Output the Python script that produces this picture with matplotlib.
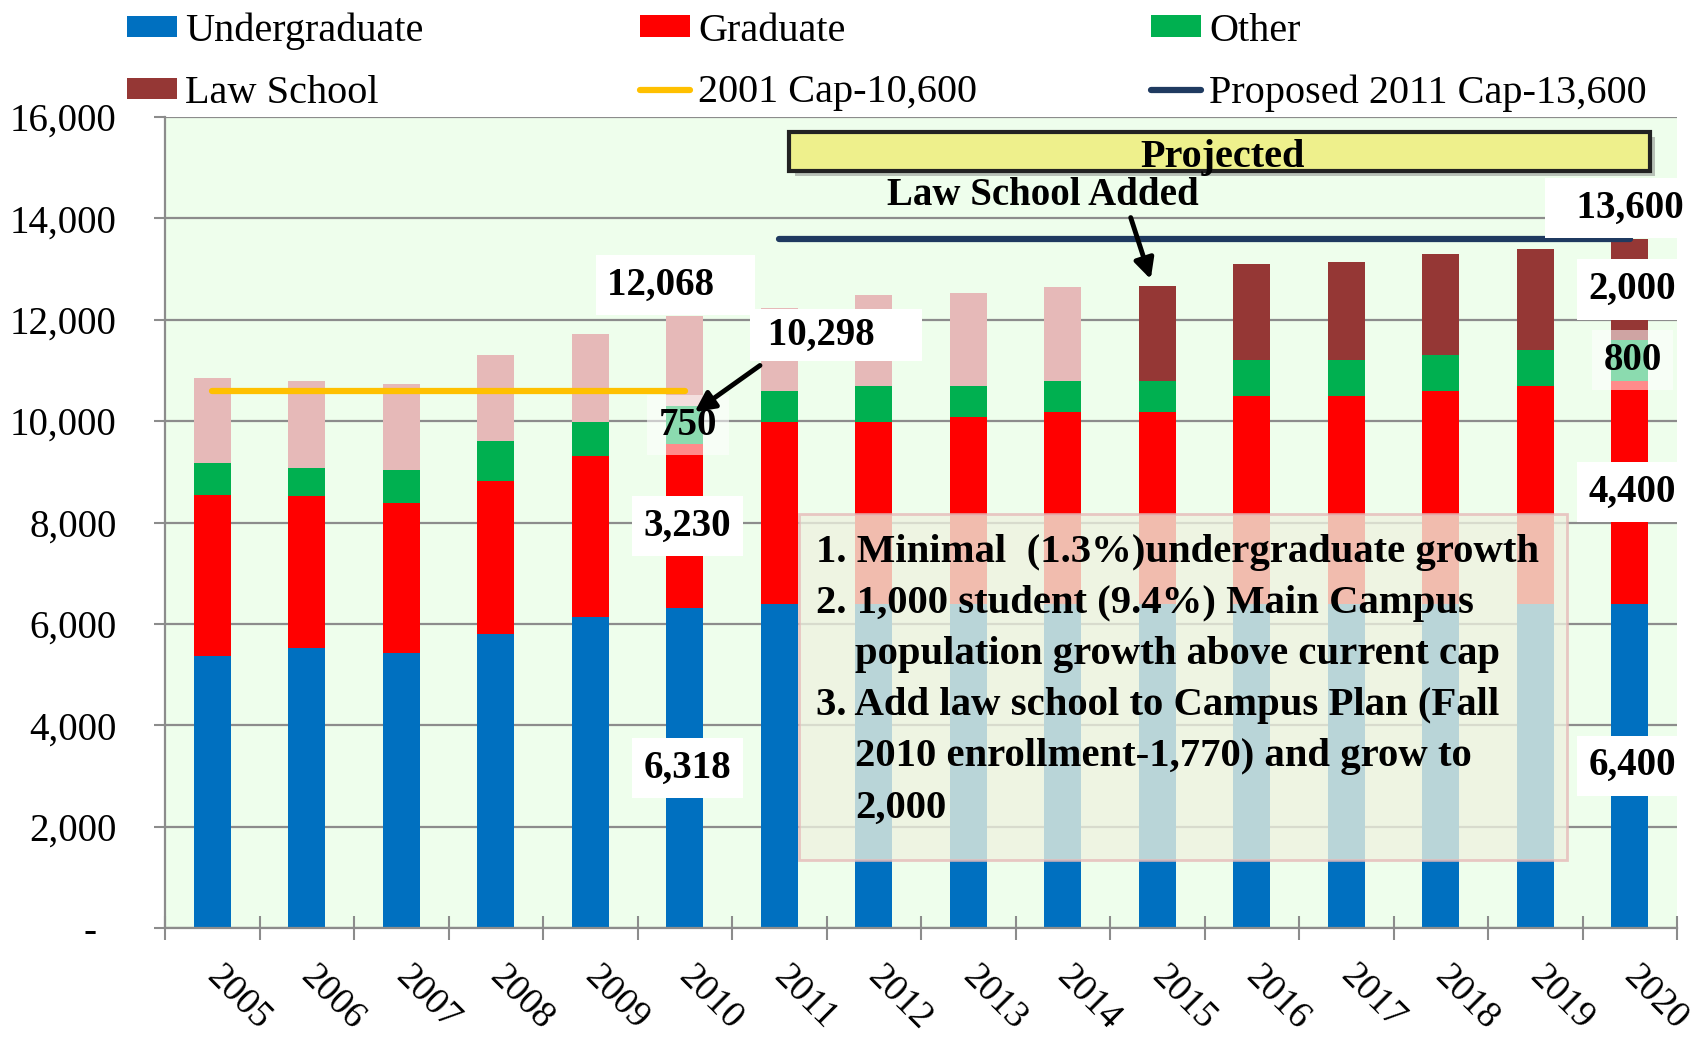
import numpy as np
import matplotlib
matplotlib.use("Agg")
import matplotlib.pyplot as plt
import matplotlib.transforms as mtransforms
from matplotlib.patches import Patch, Rectangle
from matplotlib.lines import Line2D

plt.rcParams['font.family'] = ['Liberation Serif', 'DejaVu Serif']

# ---------------- data ----------------
years = [str(y) for y in range(2005, 2021)]
undergraduate = [5370, 5520, 5430, 5800, 6140, 6318, 6390, 6400, 6400, 6400,
                 6400, 6400, 6400, 6400, 6400, 6400]
graduate = [3175, 3005, 2960, 3020, 3175, 3230, 3600, 3590, 3685, 3785,
            3785, 4100, 4100, 4200, 4300, 4400]
other = [630, 550, 645, 790, 670, 750, 610, 705, 610, 610,
         610, 707, 707, 705, 704, 800]
law_school = [1675, 1720, 1700, 1697, 1735, 1770, 1640, 1795, 1835, 1852,
              1872, 1894, 1933, 1993, 1993, 2000]
law_in_campus_plan = [False] * 10 + [True] * 6
cap_2001_years = years[:6]
cap_2001_value = 10600
cap_2011_years = years[6:]
cap_2011_value = 13600
yticks = list(range(0, 16001, 2000))
notes = [
    (0, "1. Minimal  (1.3%)undergraduate growth"),
    (0, "2. 1,000 student (9.4%) Main Campus"),
    (1, "population growth above current cap"),
    (0, "3. Add law school to Campus Plan (Fall"),
    (1, "2010 enrollment-1,770) and grow to"),
    (1, "2,000"),
]

# ---------------- colours ----------------
C_UG = '#0070C0'
C_GR = '#FF0000'
C_OT = '#00B050'
C_LAW = '#953735'
C_LAW_OFF = '#E6B9B8'
C_CAP01 = '#FFC000'
C_CAP11 = '#1F3A60'
C_GRID = '#8C8C8C'

fig = plt.figure(figsize=(17, 10.43), dpi=100)
ax = fig.add_axes([165 / 1700, 1 - 928 / 1043, (1677 - 165) / 1700, (928 - 117) / 1043])
ax.set_facecolor('#EEFEEC')

x = np.arange(len(years))
w = 0.39
ug = np.array(undergraduate)
gr = np.array(graduate)
ot = np.array(other)
lw_ = np.array(law_school)

ax.bar(x, ug, w, color=C_UG, zorder=2)
ax.bar(x, gr, w, bottom=ug, color=C_GR, zorder=2)
ax.bar(x, ot, w, bottom=ug + gr, color=C_OT, zorder=2)
law_colors = [C_LAW if f else C_LAW_OFF for f in law_in_campus_plan]
ax.bar(x, lw_, w, bottom=ug + gr + ot, color=law_colors, zorder=2)

i01 = [years.index(y) for y in cap_2001_years]
i11 = [years.index(y) for y in cap_2011_years]
ax.plot(i01, [cap_2001_value] * len(i01), color=C_CAP01, lw=4.5,
        solid_capstyle='round', zorder=3)
ax.plot(i11, [cap_2011_value] * len(i11), color=C_CAP11, lw=4.5,
        solid_capstyle='round', zorder=3)

# ---------------- axes styling ----------------
ax.set_xlim(-0.5, len(years) - 0.5)
ax.set_ylim(0, 16000)
ax.set_yticks(yticks)
ax.set_yticklabels(['-  ' if v == 0 else f'{v:,}' for v in yticks], fontsize=28)
ax.tick_params(axis='y', direction='out', length=8, width=1.5, color=C_GRID, pad=27)
ax.yaxis.grid(True, color=C_GRID, lw=1.6)
ax.set_axisbelow(True)
for s in ['top', 'right']:
    ax.spines[s].set_visible(False)
for s in ['left', 'bottom']:
    ax.spines[s].set_color(C_GRID)
    ax.spines[s].set_linewidth(1.6)

ax.set_xticks(x)
ax.set_xticklabels(years, rotation=-45, ha='center', va='center',
                   rotation_mode='anchor', fontsize=27)
ax.set_xticks(np.arange(-0.5, len(years), 1), minor=True)
ax.tick_params(axis='x', which='major', length=0, pad=50)
ax.tick_params(axis='x', which='minor', direction='inout', length=17,
               width=1.5, color=C_GRID)
offset = mtransforms.ScaledTranslation(0.26, 0, fig.dpi_scale_trans)
for lab in ax.xaxis.get_majorticklabels():
    lab.set_transform(lab.get_transform() + offset)

# ---------------- legend (three columns) ----------------
leg_kw = dict(loc='upper left', frameon=False, fontsize=29, handlelength=1.25,
              handleheight=0.45, handletextpad=0.2, labelspacing=0.62,
              borderpad=0, borderaxespad=0)
h_ug = Patch(facecolor=C_UG)
h_gr = Patch(facecolor=C_GR)
h_ot = Patch(facecolor=C_OT)
h_law = Patch(facecolor=C_LAW)
h_c01 = Line2D([], [], color=C_CAP01, lw=4.5, solid_capstyle='round')
h_c11 = Line2D([], [], color=C_CAP11, lw=4.5, solid_capstyle='round')
leg_y = 0.988
fig.legend([h_ug, h_law], ['Undergraduate', 'Law School'],
           bbox_to_anchor=(127 / 1700, leg_y), **leg_kw)
fig.legend([h_gr, h_c01], ['Graduate', f'2001 Cap-{cap_2001_value:,}'],
           bbox_to_anchor=(640 / 1700, leg_y), **leg_kw)
fig.legend([h_ot, h_c11], ['Other', f'Proposed 2011 Cap-{cap_2011_value:,}'],
           bbox_to_anchor=(1151 / 1700, leg_y), **leg_kw)

# ---------------- data labels ----------------
def box(alpha=1.0, pad=0.25):
    return dict(boxstyle=f'square,pad={pad}', fc='white', ec='none', alpha=alpha)

lab_kw = dict(ha='center', va='center', fontsize=28, fontweight='bold', zorder=6)
i10 = years.index('2010')
i20 = years.index('2020')
for i in (i10, i20):
    segs = [ug[i], gr[i], ot[i], lw_[i]]
    bottoms = np.cumsum([0] + segs[:-1])
    for k, (b, v) in enumerate(zip(bottoms, segs)):
        if i == i10 and k == 3:
            continue
        a = 0.55 if k == 2 else 1.0
        ax.text(i + 0.03, b + v / 2, f'{v:,}', bbox=box(a, 0.3), **lab_kw)

tot10 = ug[i10] + gr[i10] + ot[i10] + lw_[i10]
ax.text(i10 - 0.1, tot10 + 620, f'{tot10:,}   ', bbox=box(1, 0.3), **lab_kw)
main10 = ug[i10] + gr[i10] + ot[i10]
ax.text(i10 + 1.6, 11700, f' {main10:,}    ', bbox=box(1, 0.2), **lab_kw)
ax.annotate('', xy=(i10 + 0.08, main10 - 150), xytext=(i10 + 0.82, 11130),
            arrowprops=dict(arrowstyle='-|>', lw=3.5, color='black',
                            mutation_scale=30), zorder=7)
tot20 = ug[i20] + gr[i20] + ot[i20] + lw_[i20]
ax.text(i20 - 0.1, 14200, f'  {tot20:,}', bbox=box(1, 0.3), **lab_kw)

# ---------------- Projected banner ----------------
ax.add_patch(Rectangle((6.17, 14830), 9.1, 770, facecolor='#777777', alpha=0.45,
                       edgecolor='none', zorder=4, clip_on=False))
ax.add_patch(Rectangle((6.10, 14936), 9.11, 770, facecolor='#EEF08C',
                       edgecolor='#222222', lw=3, zorder=5, clip_on=False))
ax.text(10.69, 15200, 'Projected', ha='center', va='center', fontsize=29,
        fontweight='bold', zorder=6)
ax.text(8.79, 14450, 'Law School Added', ha='center', va='center', fontsize=28,
        fontweight='bold', zorder=6)
i15 = years.index('2015')
tot15 = ug[i15] + gr[i15] + ot[i15] + lw_[i15]
ax.annotate('', xy=(i15 - 0.06, tot15 + 80), xytext=(i15 - 0.29, 14068),
            arrowprops=dict(arrowstyle='-|>', lw=3.5, color='black',
                            mutation_scale=30), zorder=7)

# ---------------- notes box ----------------
ax.add_patch(Rectangle((6.21, 1342), 8.13, 6826, facecolor='#EEF2E0', alpha=0.78,
                       edgecolor='#E6B9B8', lw=2, zorder=4))
for j, (indent, line) in enumerate(notes):
    ax.text(6.39 + 0.41 * indent, 7400 - j * 1006, line, ha='left', va='center',
            fontsize=29.3, fontweight='bold', zorder=6)

fig.savefig('out.png', dpi=100)
